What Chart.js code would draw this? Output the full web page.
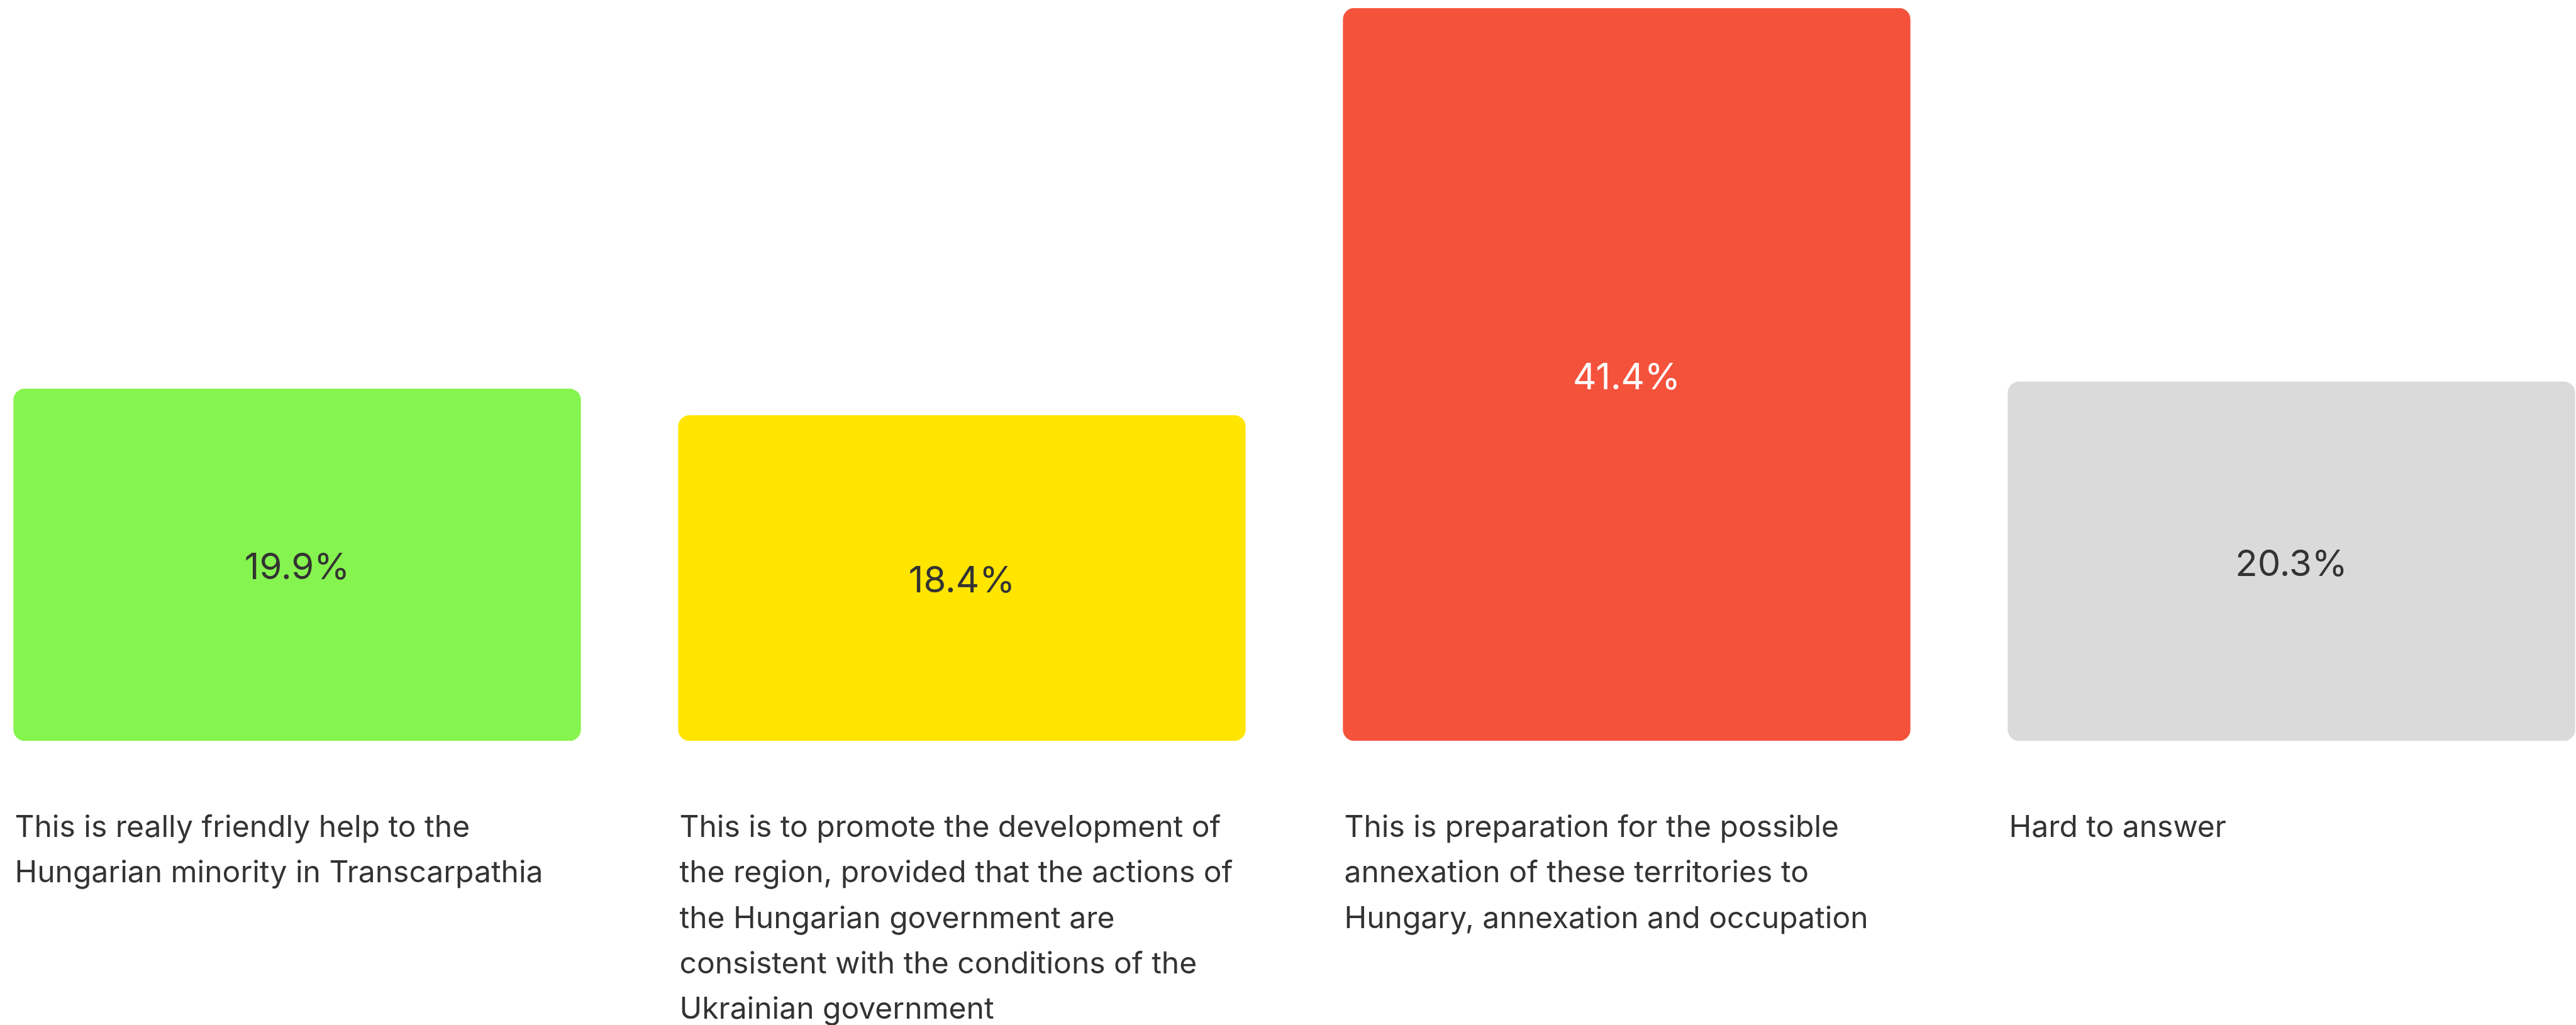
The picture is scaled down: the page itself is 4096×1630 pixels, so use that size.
<!DOCTYPE html>
<html>
<head>
<meta charset="utf-8">
<script src="https://cdn.jsdelivr.net/npm/chart.js@4.4.1/dist/chart.umd.min.js"></script>
<style>
  html, body { margin: 0; padding: 0; background: #ffffff; overflow: hidden; }
  body { width: 4096px; height: 1630px; position: relative; }
  #wrap { position: absolute; left: -56px; top: 0; width: 4228px; height: 1630px; }
</style>
</head>
<body>
<div id="wrap"><canvas id="c"></canvas></div>
<script>
// ---- data ----
const categories = [
  ["This is really friendly help to the", "Hungarian minority in Transcarpathia"],
  ["This is to promote the development of", "the region, provided that the actions of", "the Hungarian government are", "consistent with the conditions of the", "Ukrainian government"],
  ["This is preparation for the possible", "annexation of these territories to", "Hungary, annexation and occupation"],
  ["Hard to answer"]
];
const values = [19.9, 18.4, 41.4, 20.3];
const barColors = ["#86F44F", "#FFE500", "#F5523C", "#DADADA"];
const valueTextColors = ["#333333", "#333333", "#FFFFFF", "#333333"];

const FONT = "Inter, 'Noto Sans', sans-serif";

const valueLabels = {
  id: 'valueLabels',
  afterDatasetsDraw(chart) {
    const ctx = chart.ctx;
    const meta = chart.getDatasetMeta(0);
    ctx.save();
    ctx.font = "400 58px " + FONT;
    ctx.textAlign = 'center';
    ctx.textBaseline = 'alphabetic';
    meta.data.forEach((bar, i) => {
      const cy = (bar.y + bar.base) / 2;
      ctx.fillStyle = valueTextColors[i];
      ctx.fillText(values[i].toFixed(1) + '%', bar.x, cy + 23);
    });
    ctx.restore();
  }
};

new Chart(document.getElementById('c'), {
  type: 'bar',
  data: {
    labels: categories,
    datasets: [{
      data: values,
      backgroundColor: barColors,
      borderWidth: 0,
      borderRadius: 18,
      borderSkipped: false,
      categoryPercentage: 1.0,
      barPercentage: 0.8537
    }]
  },
  options: {
    responsive: true,
    maintainAspectRatio: false,
    animation: false,
    layout: { padding: { top: 12.7, bottom: 0, left: 0, right: 0 } },
    plugins: { legend: { display: false }, tooltip: { enabled: false } },
    scales: {
      x: {
        type: 'category',
        offset: true,
        grid: { display: false, drawTicks: false },
        border: { display: false },
        afterFit(scale) { scale.height = 451.7; },
        ticks: {
          autoSkip: false,
          maxRotation: 0,
          minRotation: 0,
          align: 'start',
          labelOffset: -449,
          padding: 102,
          color: '#333333',
          font: { family: FONT, size: 48, weight: '400', lineHeight: 1.508 }
        }
      },
      y: {
        display: false,
        min: 0,
        max: 41.4
      }
    }
  },
  plugins: [valueLabels]
});
</script>
</body>
</html>
